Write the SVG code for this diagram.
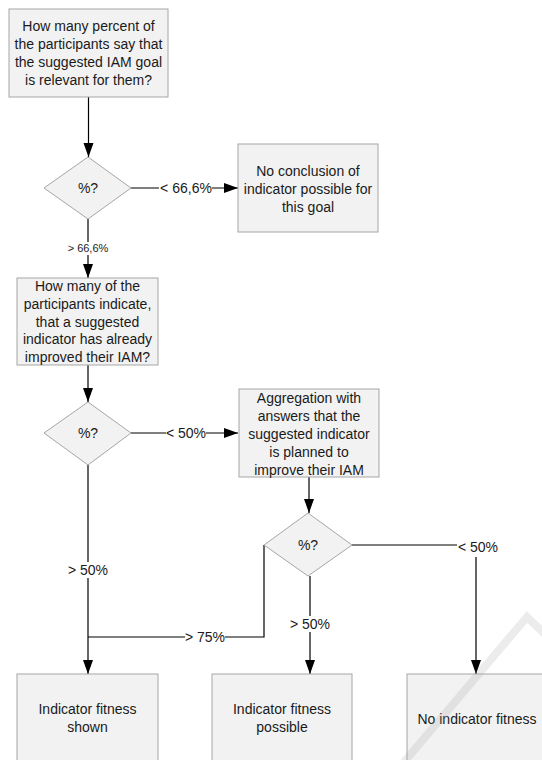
<svg xmlns="http://www.w3.org/2000/svg" width="542" height="760" viewBox="0 0 542 760">
<style>
.box{fill:#f2f2f2;stroke:#a6a6a6;stroke-width:1}
.t{font-family:"Liberation Sans",Arial,sans-serif;font-size:14px;fill:#1a1a1a;text-anchor:middle}
.ts{font-family:"Liberation Sans",Arial,sans-serif;font-size:11px;fill:#1a1a1a;text-anchor:middle}
.c{fill:none;stroke:#000;stroke-width:1.2}
.lb{fill:#fff}
</style>
<defs>
<marker id="ah" markerUnits="userSpaceOnUse" markerWidth="15" markerHeight="11" refX="14" refY="5" orient="auto">
<path d="M0,0 L14,5 L0,10 Z" fill="#000"/>
</marker>
</defs>
<rect width="542" height="760" fill="#fff"/>
<g id="connectors">
<path class="c" d="M88.5,97 V157" marker-end="url(#ah)"/>
<path class="c" d="M131,188 H238" marker-end="url(#ah)"/>
<path class="c" d="M88,219 V278" marker-end="url(#ah)"/>
<path class="c" d="M88,365 V402" marker-end="url(#ah)"/>
<path class="c" d="M131,433 H238" marker-end="url(#ah)"/>
<path class="c" d="M88,465 V674" marker-end="url(#ah)"/>
<path class="c" d="M309,477 V513" marker-end="url(#ah)"/>
<path class="c" d="M352,545 H476 V674" marker-end="url(#ah)"/>
<path class="c" d="M310,576 V674" marker-end="url(#ah)"/>
<path class="c" d="M264,545 V637 H88"/>
<rect class="lb" x="159" y="180" width="53" height="16"/>
<text class="t" x="186" y="193">&lt; 66,6%</text>
<rect class="lb" x="62" y="242" width="52" height="13"/>
<text class="ts" x="88" y="252">&gt; 66,6%</text>
<rect class="lb" x="166" y="425" width="40" height="16"/>
<text class="t" x="186" y="438">&lt; 50%</text>
<rect class="lb" x="68" y="562" width="40" height="16"/>
<text class="t" x="88" y="575">&gt; 50%</text>
<rect class="lb" x="290" y="616" width="40" height="16"/>
<text class="t" x="310" y="629">&gt; 50%</text>
<rect class="lb" x="185" y="629" width="40" height="16"/>
<text class="t" x="205" y="642">&gt; 75%</text>
<rect class="lb" x="457" y="538" width="42" height="19"/>
<text class="t" x="478" y="552">&lt; 50%</text>
</g>
<g id="q1">
<rect class="box" x="9" y="9" width="159" height="88"/>
<text class="t" x="88.5" y="31">How many percent of</text>
<text class="t" x="88.5" y="49">the participants say that</text>
<text class="t" x="88.5" y="67">the suggested IAM goal</text>
<text class="t" x="88.5" y="85">is relevant for them?</text>
</g>
<g id="d1">
<polygon class="box" points="88,157 131,188 88,219 44,188"/>
<text class="t" x="88" y="193">%?</text>
</g>
<g id="noconclusion">
<rect class="box" x="238" y="144" width="140" height="88"/>
<text class="t" x="308" y="176">No conclusion of</text>
<text class="t" x="308" y="194">indicator possible for</text>
<text class="t" x="308" y="212">this goal</text>
</g>
<g id="q2">
<rect class="box" x="17" y="278" width="141" height="87"/>
<text class="t" x="87.5" y="291">How many of the</text>
<text class="t" x="87.5" y="309">participants indicate,</text>
<text class="t" x="87.5" y="326.5">that a suggested</text>
<text class="t" x="87.5" y="344">indicator has already</text>
<text class="t" x="87.5" y="361.5">improved their IAM?</text>
</g>
<g id="d2">
<polygon class="box" points="88,402 131,433 88,465 44,433"/>
<text class="t" x="88" y="438">%?</text>
</g>
<g id="aggregation">
<rect class="box" x="239" y="389" width="140" height="88"/>
<text class="t" x="309" y="403">Aggregation with</text>
<text class="t" x="309" y="421">answers that the</text>
<text class="t" x="309" y="439">suggested indicator</text>
<text class="t" x="309" y="457">is planned to</text>
<text class="t" x="309" y="474.5">improve their IAM</text>
</g>
<g id="d3">
<polygon class="box" points="308,513 352,545 308,576 264,545"/>
<text class="t" x="308" y="550">%?</text>
</g>
<g id="shown">
<rect class="box" x="17" y="674" width="141" height="90"/>
<text class="t" x="87.5" y="714">Indicator fitness</text>
<text class="t" x="87.5" y="732">shown</text>
</g>
<g id="possible">
<rect class="box" x="212" y="674" width="140" height="90"/>
<text class="t" x="282" y="714">Indicator fitness</text>
<text class="t" x="282" y="732">possible</text>
</g>
<g id="nofitness">
<rect class="box" x="407" y="674" width="140" height="90"/>
<text class="t" x="477" y="724">No indicator fitness</text>
</g>
<g id="watermark" opacity="0.2">
<polyline points="404,762 527,617 545,634" fill="none" stroke="#a0a0a0" stroke-width="8"/>
</g>
</svg>
